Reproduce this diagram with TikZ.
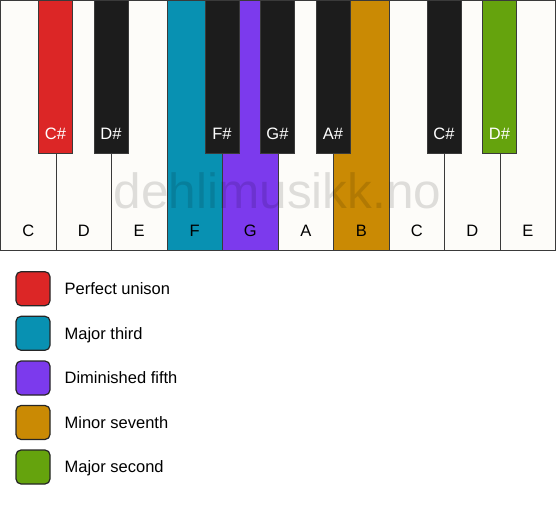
\documentclass[tikz,border=0pt]{standalone}
\usepackage{fontspec}
\setmainfont{Liberation Sans}
\usepackage{tikz}
\usetikzlibrary{shapes, calc, positioning}
\definecolor{keywhite}{HTML}{FDFCF9}
\definecolor{keyblack}{HTML}{1C1C1C}
\definecolor{keyline}{HTML}{3A3A3A}
\definecolor{unison}{HTML}{DC2626}
\definecolor{third}{HTML}{0891B2}
\definecolor{fifth}{HTML}{7C3AED}
\definecolor{seventh}{HTML}{CA8A04}
\definecolor{second}{HTML}{65A30D}
\newcommand{\labelsize}{\fontsize{16.5}{19}\selectfont}

\begin{document}
\begin{tikzpicture}[x=1pt,y=1pt,
    whitekey/.style={draw=keyline,fill=keywhite,minimum width=55.5pt,minimum height=250pt,anchor=north west},
    blackkey/.style={draw=keyline,fill=keyblack,minimum width=34pt,minimum height=153pt,anchor=north},
    keytext/.style={font=\labelsize,text=black,text height=11.8pt,text depth=0pt},
    legendbox/.style={draw=black!85,line width=1.2pt,rounded corners=5pt,minimum size=34pt}]
            \useasboundingbox (0,0) rectangle (556,506);
            \begin{scope}[line width=1pt]
            \tikzstyle{every node}=[inner sep=0pt]

            % white keys
            \node[whitekey] (w_1) at (0,506) {};
            \node[whitekey] (w_2) at (55.5,506) {};
            \node[whitekey] (w_3) at (111,506) {};
            \node[whitekey,fill=third] (w_4) at (166.5,506) {};
            \node[whitekey,fill=fifth] (w_5) at (222,506) {};
            \node[whitekey] (w_6) at (277.5,506) {};
            \node[whitekey,fill=seventh] (w_7) at (333,506) {};
            \node[whitekey] (w_8) at (388.5,506) {};
            \node[whitekey] (w_9) at (444,506) {};
            \node[whitekey] (w_10) at (499.5,506) {};

            % black keys
            \node[blackkey,fill=unison] (b_1) at (55.5,506) {};
            \node[blackkey] (b_2) at (111,506) {};
            \node[blackkey] (b_3) at (222,506) {};
            \node[blackkey] (b_4) at (277.5,506) {};
            \node[blackkey] (b_5) at (333,506) {};
            \node[blackkey] (b_6) at (444,506) {};
            \node[blackkey,fill=second] (b_7) at (499.5,506) {};

            % watermark
            \node[font=\fontsize{49.5}{52}\selectfont,text=black,text opacity=0.12,anchor=base] (mark) at (277.5,297.7) {dehlimusikk.no};

            % key names
            \node[keytext,above=14.3pt of w_1.south] (t_1) {C};
            \node[keytext,above=14.3pt of w_2.south] (t_2) {D};
            \node[keytext,above=14.3pt of w_3.south] (t_3) {E};
            \node[keytext,above=14.3pt of w_4.south] (t_4) {F};
            \node[keytext,above=14.3pt of w_5.south] (t_5) {G};
            \node[keytext,above=14.3pt of w_6.south] (t_6) {A};
            \node[keytext,above=14.3pt of w_7.south] (t_7) {B};
            \node[keytext,above=14.3pt of w_8.south] (t_8) {C};
            \node[keytext,above=14.3pt of w_9.south] (t_9) {D};
            \node[keytext,above=14.3pt of w_10.south] (t_10) {E};

            \node[keytext,text=white,above=14pt of b_1.south] (s_1) {C\#};
            \node[keytext,text=white,above=14pt of b_2.south] (s_2) {D\#};
            \node[keytext,text=white,above=14pt of b_3.south] (s_3) {F\#};
            \node[keytext,text=white,above=14pt of b_4.south] (s_4) {G\#};
            \node[keytext,text=white,above=14pt of b_5.south] (s_5) {A\#};
            \node[keytext,text=white,above=14pt of b_6.south] (s_6) {C\#};
            \node[keytext,text=white,above=14pt of b_7.south] (s_7) {D\#};

            % legend
            \node[legendbox,fill=unison] (l_1) at (33,217.3) {};
            \node[legendbox,fill=third] (l_2) at (33,172.7) {};
            \node[legendbox,fill=fifth] (l_3) at (33,128) {};
            \node[legendbox,fill=seventh] (l_4) at (33,83.5) {};
            \node[legendbox,fill=second] (l_5) at (33,39) {};

            \node[keytext,right=13.5pt of l_1] (n_1) {Perfect unison};
            \node[keytext,right=13.5pt of l_2] (n_2) {Major third};
            \node[keytext,right=13.5pt of l_3] (n_3) {Diminished fifth};
            \node[keytext,right=13.5pt of l_4] (n_4) {Minor seventh};
            \node[keytext,right=13.5pt of l_5] (n_5) {Major second};

            \end{scope}
        \end{tikzpicture}
\end{document}
